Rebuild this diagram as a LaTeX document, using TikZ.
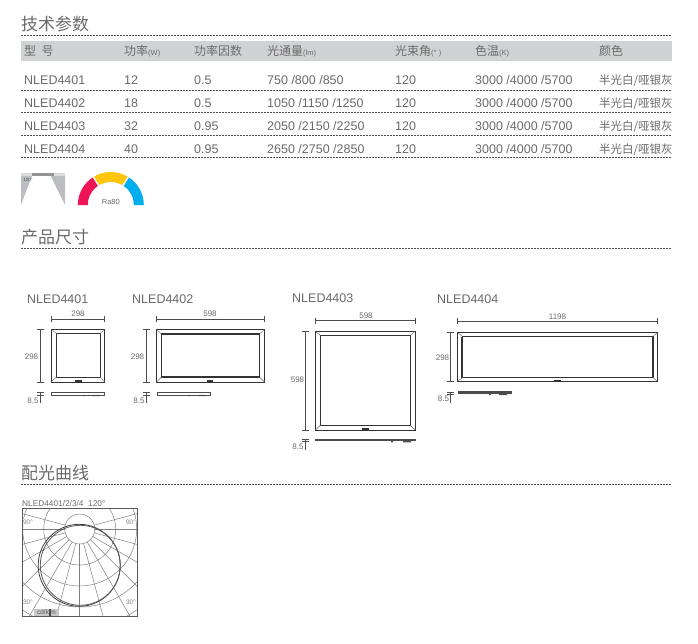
\documentclass[tikz,border=0pt]{standalone}
\usepackage{fontspec}
\setmainfont{Liberation Sans}
\newfontfamily\cjk{Noto Sans CJK SC}
\usepackage{xcolor}
\usetikzlibrary{calc}
\definecolor{inkgray}{HTML}{6A6A6A}
\definecolor{bandgray}{HTML}{D1D2D4}
\definecolor{conegray}{HTML}{BCBDC0}
\definecolor{rared}{HTML}{EE1556}
\definecolor{rayellow}{HTML}{FFC60B}
\definecolor{rablue}{HTML}{00AEEF}
\tikzset{
    title_text/.style={anchor=west, inner sep=0pt, text=inkgray, font=\cjk\fontsize{17}{17}\selectfont},
    cell_text/.style={anchor=base west, inner sep=0pt, text=inkgray, font=\fontsize{12.5}{13}\selectfont},
    head_text/.style={anchor=base west, inner sep=0pt, text=inkgray, font=\cjk\fontsize{12}{13}\selectfont},
    dim_text/.style={inner sep=0pt, text=inkgray, font=\fontsize{8}{9}\selectfont},
    mark_text/.style={inner sep=0.5pt, fill=white, text=black!50, font=\fontsize{6.5}{7}\selectfont},
    dashed_rule/.style={line width=0.7pt, dash pattern=on 2pt off 1pt, black!70},
    dim_line/.style={line width=0.6pt, black!70},
    panel_line/.style={line width=1pt, black!80},
    miter_line/.style={line width=0.4pt, black!60},
    side_bar/.style={fill=black!70, draw=none},
    grid_line/.style={line width=0.5pt, black!50}
}
\newcommand{\unitfont}{\fontspec{Liberation Sans}\fontsize{7.5}{8}\selectfont}
\begin{document}
\begin{tikzpicture}[x=1pt, y=-1pt]
    \useasboundingbox (0,0) rectangle (698,643);
    % === SPEC TABLE ===
    \node[title_text] (title1) at (21,24) {技术参数};
    \draw[dashed_rule] (21,35) -- (671,35);
    \fill[bandgray] (21,41) rectangle (672,61);
    \node[head_text] (h1) at (24,55) {型\ \ 号};
    \node[head_text] (h2) at (124,55) {功率{\unitfont (W)}};
    \node[head_text] (h3) at (194,55) {功率因数};
    \node[head_text] (h4) at (267,55) {光通量{\unitfont (lm)}};
    \node[head_text] (h5) at (395,55) {光束角{\unitfont (° )}};
    \node[head_text] (h6) at (475,55) {色温{\unitfont (K)}};
    \node[head_text] (h7) at (599,55) {颜色};
    % Rows
    \foreach \rowid/\rowy/\model/\watt/\factor/\flux in {
        a/84/NLED4401/12/0.5/750 {/}800 {/}850,
        b/107/NLED4402/18/0.5/1050 {/}1150 {/}1250,
        c/130/NLED4403/32/0.95/2050 {/}2150 {/}2250,
        d/153/NLED4404/40/0.95/2650 {/}2750 {/}2850}{
        \node[cell_text] (\rowid1) at (24,\rowy) {\model};
        \node[cell_text] (\rowid2) at (124,\rowy) {\watt};
        \node[cell_text] (\rowid3) at (194,\rowy) {\factor};
        \node[cell_text] (\rowid4) at (267,\rowy) {\flux};
        \node[cell_text] (\rowid5) at (395,\rowy) {120};
        \node[cell_text] (\rowid6) at (475,\rowy) {3000 /4000 /5700};
        \node[head_text, font=\cjk\fontsize{11.5}{13}\selectfont] (\rowid7) at (599,\rowy) {半光白/哑银灰};
    }
    \draw[dashed_rule] (21,90) -- (671,90);
    \draw[dashed_rule] (21,112.5) -- (671,112.5);
    \draw[dashed_rule] (21,135) -- (671,135);
    \draw[dashed_rule] (21,157) -- (671,157);
    % Beam angle icon
    \fill[black!14] (21,173) rectangle (65,176);
    \fill[black!42] (32,173) rectangle (54,176);
    \fill[conegray] (21,176) -- (32,176) -- (21,205) -- cycle;
    \fill[conegray] (50.7,176) -- (65,176) -- (65,205) -- cycle;
    \node[inner sep=0pt, text=black!70, font=\fontsize{4.5}{5}\selectfont] (beam) at (28,180) {120°};
    % Ra gauge
    \fill[rared] (77.8,205) arc (-180:-122:33) -- ++(58:10) arc (-122:-180:23) -- cycle;
    \fill[rayellow] ($(110.8,205)+(-122:33)$) arc (-122:-58:33) -- ++(122:10) arc (-58:-122:23) -- cycle;
    \fill[rablue] (143.8,205) arc (0:-58:33) -- ++(122:10) arc (-58:0:23) -- cycle;
    \draw[white, line width=1.4pt] ($(110.8,205)+(-122:22)$) -- ($(110.8,205)+(-122:34)$);
    \draw[white, line width=1.4pt] ($(110.8,205)+(-58:22)$) -- ($(110.8,205)+(-58:34)$);
    \node[inner sep=0pt, text=inkgray, font=\fontsize{7.5}{8}\selectfont] (ra) at (110.8,202) {Ra80};
    %
    % === DIMENSIONS ===
    \node[title_text] (title2) at (21,237) {产品尺寸};
    \draw[dashed_rule] (21,248) -- (671,248);
    \node[cell_text] (m1) at (27,303) {NLED4401};
    \node[cell_text] (m2) at (132,303) {NLED4402};
    \node[cell_text] (m3) at (292,302) {NLED4403};
    \node[cell_text] (m4) at (437,303) {NLED4404};
    % NLED4401
    \draw[panel_line] (51,329.5) rectangle (104.5,382);
    \draw[panel_line] (56.5,333.5) rectangle (100,377);
    \draw[miter_line] (51,329.5) -- (56.5,333.5) (104.5,329.5) -- (100,333.5) (51,382) -- (56.5,377) (104.5,382) -- (100,377);
    \fill[black!80] (75,379.5) rectangle (82,381.5);
    \draw[dim_line] (51,319) -- (104.5,319) (51,316) -- (51,322) (104.5,316) -- (104.5,322);
    \node[dim_text] (w1) at (78,314) {298};
    \draw[dim_line] (40.5,329.5) -- (40.5,382) (37,329.5) -- (44,329.5) (37,382) -- (44,382);
    \node[dim_text] (l1) at (31.5,357) {298};
    \draw[dim_line] (51.5,392.5) rectangle (104,394.8);
    \fill[side_bar] (82.5,394.8) rectangle (84.5,396) (92,394.8) rectangle (100,396);
    \draw[dim_line] (40.5,392.7) -- (40.5,403) (37,392.7) -- (44,392.7) (37,395.3) -- (44,395.3);
    \node[dim_text] (t1) at (33,400.5) {8.5};
    % NLED4402
    \draw[panel_line] (156.5,329.5) rectangle (264.5,382);
    \draw[panel_line, line width=1.2pt] (161.5,334) rectangle (259.5,377);
    \draw[miter_line] (156.5,329.5) -- (161.5,334) (264.5,329.5) -- (259.5,334) (156.5,382) -- (161.5,377) (264.5,382) -- (259.5,377);
    \fill[black!80] (207,380) rectangle (213,382);
    \draw[dim_line] (156.5,319) -- (264.5,319) (156.5,316) -- (156.5,322) (264.5,316) -- (264.5,322);
    \node[dim_text] (w2) at (210,314) {598};
    \draw[dim_line] (146,329.5) -- (146,382) (143,329.5) -- (150,329.5) (143,382) -- (150,382);
    \node[dim_text] (l2) at (137.5,357) {298};
    \draw[dim_line] (157.5,392.5) rectangle (210.5,394.8);
    \fill[side_bar] (188.5,394.8) rectangle (190,396) (198,394.8) rectangle (205.7,396);
    \draw[dim_line] (146,392.7) -- (146,403) (142.5,392.7) -- (149.5,392.7) (142.5,395.3) -- (149.5,395.3);
    \node[dim_text] (t2) at (139,400.5) {8.5};
    % NLED4403
    \draw[panel_line] (315.5,331.5) rectangle (415,430);
    \draw[panel_line] (320.5,335.5) rectangle (410,425);
    \draw[miter_line] (315.5,331.5) -- (320.5,335.5) (415,331.5) -- (410,335.5) (315.5,430) -- (320.5,425) (415,430) -- (410,425);
    \fill[black!80] (362,428) rectangle (369,429.5);
    \draw[dim_line] (315.5,320.7) -- (415,320.7) (315.5,317.7) -- (315.5,323.7) (415,317.7) -- (415,323.7);
    \node[dim_text] (w3) at (366,315.5) {598};
    \draw[dim_line] (305,331.5) -- (305,430) (301.5,331.5) -- (308.5,331.5) (301.5,430) -- (308.5,430);
    \node[dim_text] (l3) at (297.5,380) {598};
    \fill[side_bar] (315,438.5) rectangle (415.5,441.2);
    \fill[side_bar] (391,441.2) rectangle (393,442.3) (403,441.2) rectangle (411,442.3);
    \draw[dim_line] (305,439) -- (305,449.5) (301.5,439) -- (308.5,439) (301.5,441.5) -- (308.5,441.5);
    \node[dim_text] (t3) at (298,446.5) {8.5};
    % NLED4404
    \draw[panel_line, line width=1.1pt] (457.5,332.5) rectangle (657.5,381.5);
    \draw[panel_line, line width=1.1pt] (462.5,336.5) rectangle (653,377.5);
    \draw[panel_line, line width=1.1pt] (462,336.5) -- (462,377.5);
    \draw[miter_line] (457.5,332.5) -- (462.5,336.5) (657.5,332.5) -- (653,336.5) (457.5,381.5) -- (462.5,377.5) (657.5,381.5) -- (653,377.5);
    \fill[black!85] (554,379.8) rectangle (561,381.2);
    \draw[dim_line] (457.5,321) -- (657.5,321) (457.5,318) -- (457.5,324) (657.5,318) -- (657.5,324);
    \node[dim_text] (w4) at (557.5,317) {1198};
    \draw[dim_line] (450.7,332.5) -- (450.7,381.5) (447,332.5) -- (454,332.5) (447,381.5) -- (454,381.5);
    \node[dim_text] (l4) at (442.5,358) {298};
    \fill[side_bar] (458,391.2) rectangle (512,393.8);
    \fill[side_bar] (489,393.8) rectangle (491,395) (499,393.8) rectangle (507,395);
    \draw[dim_line] (450.7,392) -- (450.7,402.5) (447,392) -- (454,392) (447,394.5) -- (454,394.5);
    \node[dim_text] (t4) at (443.5,399) {8.5};
    %
    % === LIGHT DISTRIBUTION ===
    \node[title_text] (title3) at (21,473) {配光曲线};
    \draw[dashed_rule] (21,484) -- (671,484);
    \node[anchor=base west, inner sep=0pt, text=inkgray, font=\fontsize{8.3}{9}\selectfont] (polarcap) at (22,506) {NLED4401/2/3/4\ \ 120°};
    \begin{scope}
    \clip (22.5,508.5) rectangle (137,616);
    \foreach \gridr in {15,36,57,78,99,120}
        \draw[grid_line] (79.7,529) circle (\gridr);
    \foreach \gridang in {-15,0,...,195}
        \draw[grid_line] ($(79.7,529)+(\gridang:15)$) -- ($(79.7,529)+(\gridang:130)$);
    \draw[line width=0.8pt, black!75] (79.2,565.3) circle (41);
    \draw[line width=0.8pt, black!65] (80.3,565.3) circle (40);
    \end{scope}
    \draw[line width=0.9pt, black!65] (22.5,508.5) rectangle (137,616);
    % Angle marks
    \node[mark_text] (a1) at (28,522) {90°};
    \node[mark_text] (a2) at (131,522) {90°};
    \node[mark_text] (a3) at (28,602) {30°};
    \node[mark_text] (a4) at (131,602) {30°};
    \fill[black!22] (34,609) rectangle (59,615.5);
    \fill[black!70] (49,609) rectangle (51,615.5);
    \node[dim_text, text=black!65, font=\fontsize{6.5}{7}\selectfont] (unitmark) at (46.5,612.5) {cd/klm};
\end{tikzpicture}
\end{document}
